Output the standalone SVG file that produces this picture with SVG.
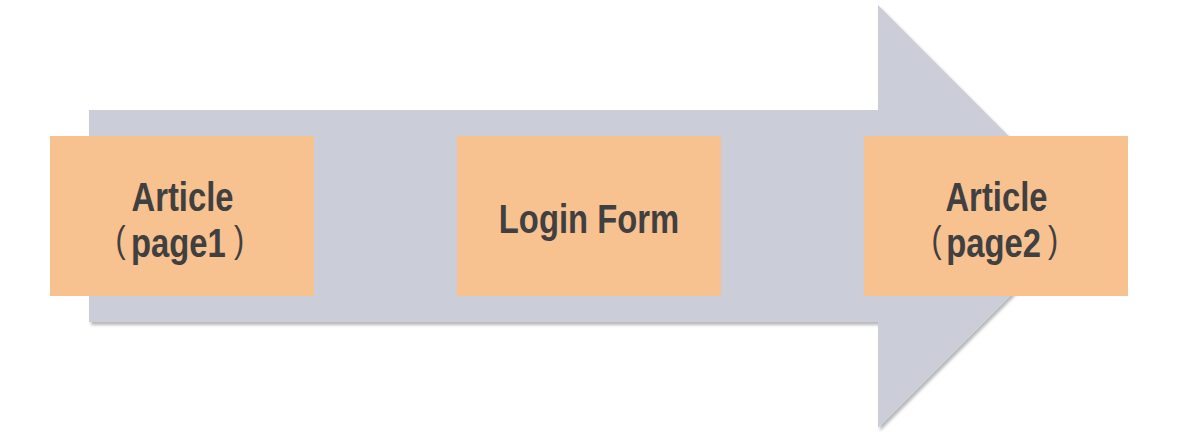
<svg xmlns="http://www.w3.org/2000/svg" width="1178" height="438" viewBox="0 0 1178 438">
  <defs>
    <filter id="soft-shadow" x="-5%" y="-5%" width="110%" height="115%">
      <feDropShadow dx="2" dy="3" stdDeviation="1.5" flood-color="#000" flood-opacity="0.28"/>
    </filter>
  </defs>
  <style>
    .step { fill: #F8C190; }
    /* labels use a horizontally condensed bold sans (x scaled by 0.82) */
    .label { font-family: "Liberation Sans", sans-serif; font-weight: bold; font-size: 40px; fill: #404040; text-anchor: middle; }
    .sub { text-anchor: start; }
    .paren { font-weight: normal; font-size: 37px; }
  </style>

  <!-- Large flow arrow behind the steps -->
  <g id="connectors">
    <path d="M89,110 H878 V5 L1089,216.5 L878,428 V322 H89 Z" fill="#CBCED8" filter="url(#soft-shadow)"/>
  </g>

  <g id="article-page1">
    <rect class="step" x="50" y="136" width="264" height="160"/>
    <text class="label" transform="scale(0.82 1)" x="222.6" y="211">Article</text>
    <text class="label sub" transform="scale(0.82 1)"><tspan class="paren" x="140.9" y="252">(</tspan><tspan x="159.8" y="257">page1</tspan><tspan class="paren" x="285.4" y="252">)</tspan></text>
  </g>

  <g id="login-form">
    <rect class="step" x="457" y="136" width="264" height="160"/>
    <text class="label" transform="scale(0.82 1)" x="718.3" y="233">Login Form</text>
  </g>

  <g id="article-page2">
    <rect class="step" x="864" y="136" width="264" height="160"/>
    <text class="label" transform="scale(0.82 1)" x="1215.2" y="211">Article</text>
    <text class="label sub" transform="scale(0.82 1)"><tspan class="paren" x="1136" y="252">(</tspan><tspan x="1154" y="257">page2</tspan><tspan class="paren" x="1278" y="252">)</tspan></text>
  </g>
</svg>
